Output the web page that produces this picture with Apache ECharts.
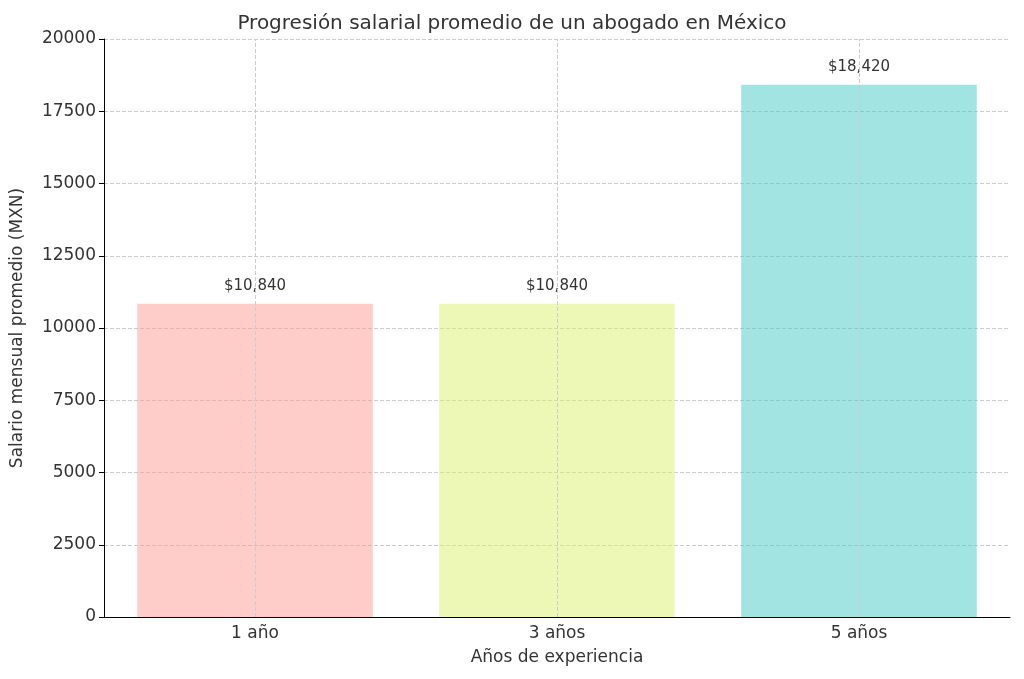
<!DOCTYPE html>
<html><head><meta charset="utf-8">
<script src="https://cdn.jsdelivr.net/npm/echarts@6/dist/echarts.min.js"></script>
<style>html,body{margin:0;padding:0;background:#fff}#c{width:1024px;height:679px}</style>
</head><body><div id="c"></div>
<script>
const categories = ['1 año', '3 años', '5 años'];
const salaries = [10840, 10840, 18420];
const valueLabels = ['$10,840', '$10,840', '$18,420'];
const barColors = ['rgba(255,155,147,0.5)', 'rgba(221,241,109,0.5)', 'rgba(67,201,195,0.5)'];
const font = 'DejaVu Sans';
const chart = echarts.init(document.getElementById('c'));
chart.setOption({
  animation: false,
  textStyle: { fontFamily: font },
  title: { text: 'Progresión salarial promedio de un abogado en México', left: 'center', top: 9,
    textStyle: { fontFamily: font, fontSize: 20, fontWeight: 'normal', color: '#333' } },
  grid: { left: 104, right: 14, top: 39, bottom: 62 },
  xAxis: { type: 'category', data: categories,
    name: 'Años de experiencia', nameLocation: 'middle', nameGap: 32,
    nameTextStyle: { fontSize: 17, color: '#333', fontFamily: font },
    axisLine: { lineStyle: { color: '#000' } },
    axisTick: { alignWithLabel: true, lineStyle: { color: '#000' } },
    axisLabel: { fontSize: 17, color: '#333', fontFamily: font },
    splitLine: { show: false } },
  yAxis: { type: 'value', min: 0, max: 20000, interval: 2500,
    name: 'Salario mensual promedio (MXN)', nameLocation: 'middle', nameGap: 78,
    nameTextStyle: { fontSize: 17, color: '#333', fontFamily: font },
    axisLine: { show: true, lineStyle: { color: '#000' } },
    axisTick: { show: true, lineStyle: { color: '#000' } },
    axisLabel: { fontSize: 17, color: '#333', fontFamily: font, formatter: v => String(v) },
    splitLine: { lineStyle: { color: '#ccc', type: 'dashed' } } },
  series: [{
    type: 'bar', barWidth: '78%',
    data: salaries.map((v, i) => ({ value: v, itemStyle: { color: barColors[i] },
      label: { show: true, position: 'top', distance: 10, formatter: valueLabels[i],
        fontSize: 15, color: '#333', fontFamily: font } })),
    markLine: { silent: true, symbol: 'none', label: { show: false },
      lineStyle: { color: '#ccc', type: 'dashed', width: 1 },
      data: categories.map(c => ({ xAxis: c })) }
  }]
});
</script></body></html>
